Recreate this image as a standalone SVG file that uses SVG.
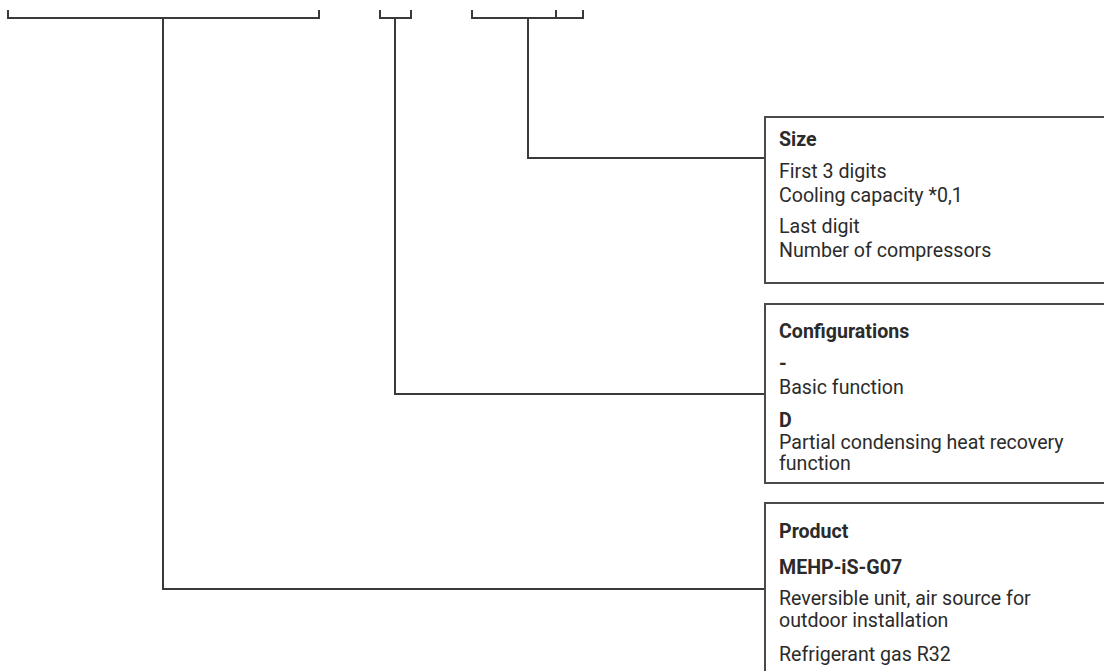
<svg xmlns="http://www.w3.org/2000/svg" width="1104" height="671" viewBox="0 0 1104 671">
<style>
.ln{fill:none;stroke:#3a3a3a;stroke-width:2;}
.bx{fill:#fff;stroke:#4a4a4a;stroke-width:2;}
text{font-family:Roboto,"Liberation Sans",sans-serif;font-size:19.6px;fill:#2b2b2b;}
.b{font-weight:bold;}
</style>
<rect width="1104" height="671" fill="#fff"/>
<g id="brackets">
<path class="ln" d="M7,18 H320 M8,10 V18 M319,10 V18"/>
<path class="ln" d="M379,18 H412 M380,10 V18 M411,10 V18"/>
<path class="ln" d="M471,18 H584 M472,10 V18 M556,10 V18 M583,10 V18"/>
</g>
<g id="connectors">
<path class="ln" d="M528,18 V158 H765"/>
<path class="ln" d="M395,18 V394 H765"/>
<path class="ln" d="M163,18 V589 H765"/>
</g>
<g id="size">
<rect class="bx" x="765" y="117" width="360" height="166"/>
<text class="b" x="779" y="146">Size</text>
<text x="779" y="178">First 3 digits</text>
<text x="779" y="202">Cooling capacity *0,1</text>
<text x="779" y="233">Last digit</text>
<text x="779" y="257">Number of compressors</text>
</g>
<g id="configurations">
<rect class="bx" x="765" y="304" width="360" height="179"/>
<text class="b" x="779" y="338">Configurations</text>
<text class="b" x="779" y="370">-</text>
<text x="779" y="394">Basic function</text>
<text class="b" x="779" y="427">D</text>
<text x="779" y="449">Partial condensing heat recovery</text>
<text x="779" y="470">function</text>
</g>
<g id="product">
<rect class="bx" x="765" y="503" width="360" height="200"/>
<text class="b" x="779" y="538">Product</text>
<text class="b" x="779" y="574">MEHP-iS-G07</text>
<text x="779" y="605">Reversible unit, air source for</text>
<text x="779" y="627">outdoor installation</text>
<text x="779" y="661">Refrigerant gas R32</text>
</g>
</svg>
